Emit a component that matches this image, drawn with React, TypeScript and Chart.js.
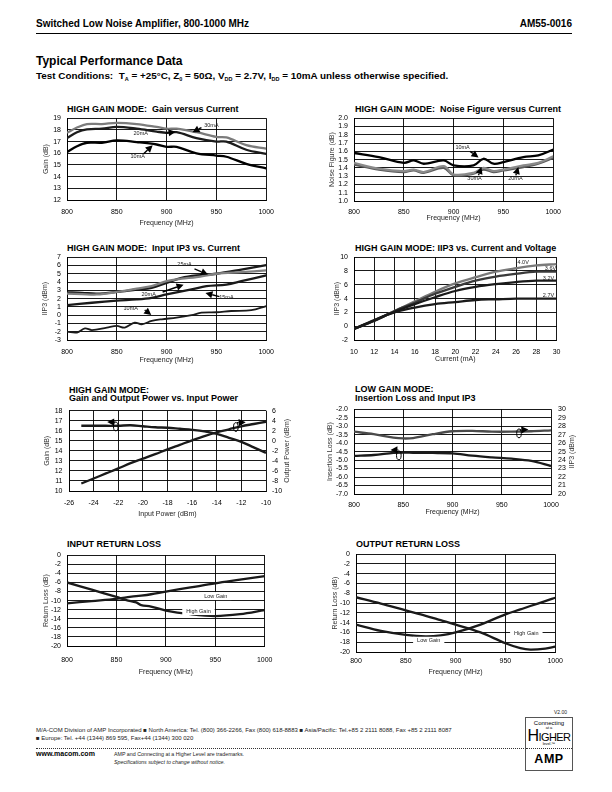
import React, { useEffect, useRef } from 'react';
import { Chart, registerables } from 'chart.js';

Chart.register(...registerables);

const FONT = '"Liberation Sans", Arial, Helvetica, sans-serif';

// ---------- Chart 1: HIGH GAIN MODE: Gain versus Current ----------
const gainFreq = [800, 810, 820, 835, 850, 870, 890, 900, 910, 930, 950, 960, 980, 1000];
const gain30mA = [17.75, 18.2, 18.5, 18.5, 18.6, 18.5, 18.25, 18.1, 18.1, 17.8, 17.4, 17.35, 16.7, 16.4];
const gain20mA = [17.3, 17.8, 18.05, 18.1, 18.25, 18.1, 17.85, 17.75, 17.8, 17.3, 17.0, 17.0, 16.3, 15.95];
const gain10mA = [16.1, 16.6, 16.9, 16.9, 17.1, 16.95, 16.75, 16.55, 16.55, 16.0, 15.8, 15.7, 15.1, 14.7];
const gainNotes = [
  { text: '30mA', x: 945, y: 18.36 },
  { text: '20mA', x: 874, y: 17.69 },
  { text: '10mA', x: 871, y: 15.75 },
];
const gainArrows = [
  { x1: 935, y1: 18.2, x2: 926, y2: 17.8 },
  { x1: 899, y1: 17.72, x2: 909, y2: 17.84 },
  { x1: 877, y1: 15.96, x2: 886, y2: 16.68 },
];

// ---------- Chart 2: HIGH GAIN MODE: Noise Figure versus Current ----------
const nfFreq = [800, 825, 850, 860, 870, 890, 900, 920, 930, 940, 950, 970, 985, 1000];
const nf10mA = [1.58, 1.53, 1.46, 1.49, 1.45, 1.49, 1.43, 1.43, 1.51, 1.45, 1.47, 1.53, 1.55, 1.62];
const nf20mA = [1.46, 1.39, 1.36, 1.38, 1.35, 1.42, 1.32, 1.34, 1.4, 1.36, 1.38, 1.43, 1.46, 1.54];
const nf30mA = [1.44, 1.38, 1.35, 1.37, 1.34, 1.4, 1.31, 1.33, 1.38, 1.35, 1.37, 1.41, 1.45, 1.52];
const nfNotes = [
  { text: '10mA', x: 909, y: 1.646 },
  { text: '30mA', x: 921, y: 1.274 },
  { text: '20mA', x: 962, y: 1.274 },
];
const nfArrows = [
  { x1: 916.5, y1: 1.6, x2: 925, y2: 1.525 },
  { x1: 925, y1: 1.31, x2: 928, y2: 1.41 },
  { x1: 962.5, y1: 1.31, x2: 965, y2: 1.41 },
];

// ---------- Chart 3: HIGH GAIN MODE: Input IP3 vs. Current ----------
const ip3Freq = [800, 815, 830, 850, 870, 885, 900, 915, 930, 950, 975, 1000];
const ip3Upper = [2.75, 2.7, 2.6, 2.8, 3.1, 3.3, 3.9, 4.5, 4.8, 5.0, 5.5, 6.05];
const ip3Gray = [2.6, 2.55, 2.5, 2.8, 3.2, 3.5, 4.1, 4.4, 4.6, 5.0, 5.2, 5.4];
const ip3Freq15 = [800, 825, 850, 870, 885, 900, 925, 940, 960, 975, 1000];
const ip315mA = [1.2, 1.5, 1.75, 1.9, 2.1, 2.5, 3.1, 3.5, 3.7, 4.1, 4.8];
const ip3Freq10 = [800, 810, 818, 825, 840, 850, 858, 868, 875, 885, 895, 910, 925, 935, 950, 965, 985, 1000];
const ip310mA = [-2.0, -2.1, -1.6, -1.8, -1.5, -1.3, -1.5, -0.9, -1.1, -0.7, -0.5, -0.3, 0.0, 0.3, 0.35, 0.5, 0.6, 1.1];
const ip3Notes = [
  { text: '25mA', x: 918, y: 6.12 },
  { text: '20mA', x: 882, y: 2.53 },
  { text: '15mA', x: 960, y: 2.15 },
  { text: '10mA', x: 864, y: 0.78 },
];
const ip3Arrows = [
  { x1: 928, y1: 5.6, x2: 941.5, y2: 4.9 },
  { x1: 896, y1: 2.8, x2: 917, y2: 3.68 },
  { x1: 953, y1: 2.23, x2: 939, y2: 2.69 },
  { x1: 878, y1: 0.63, x2: 884.6, y2: 0.02 },
];

// ---------- Chart 4: HIGH GAIN MODE: IIP3 vs. Current and Voltage ----------
const currents = [10, 12, 14, 16, 18, 20, 22, 24, 26, 28, 30];
const iip3V40 = [-0.4, 0.8, 2.2, 3.6, 5.0, 6.2, 7.1, 7.9, 8.4, 8.8, 9.0];
const iip3V36 = [-0.4, 0.8, 2.2, 3.4, 4.7, 5.7, 6.6, 7.2, 7.6, 7.9, 7.9];
const iip3V32 = [-0.4, 0.8, 2.1, 3.2, 4.2, 5.1, 5.7, 6.1, 6.4, 6.6, 6.6];
const iip3V27 = [-0.4, 0.9, 2.0, 2.7, 3.2, 3.5, 3.8, 3.9, 4.0, 4.0, 4.0];
const voltNotes = [
  { text: '4.0V', x: 26.7, y: 9.3 },
  { text: '3.6V', x: 29.4, y: 8.3 },
  { text: '3.2V', x: 29.2, y: 6.95 },
  { text: '2.7V', x: 29.2, y: 4.5 },
];

// ---------- Chart 5: HIGH GAIN MODE: Gain and Output Power vs. Input Power ----------
const inPower = [-25, -24, -23, -22, -21, -20, -19, -18, -17, -16, -15, -14, -13, -12, -11, -10];
const gainVsPin = [16.5, 16.5, 16.5, 16.5, 16.55, 16.45, 16.35, 16.3, 16.2, 16.1, 15.95, 15.7, 15.3, 14.9, 14.35, 13.8];
const poutVsPin = [-8.5, -7.5, -6.5, -5.5, -4.45, -3.55, -2.65, -1.7, -0.8, 0.1, 0.95, 1.7, 2.3, 2.9, 3.35, 3.8];
const pinOvals = [
  { x: -22.2, y: 16.43, axis: 'y' },
  { x: -12.45, y: 16.37, axis: 'y' },
];
const pinArrows = [
  { x1: -22.25, y1: 16.87, x2: -22.9, y2: 16.87, axis: 'y' },
  { x1: -12.35, y1: 16.8, x2: -11.65, y2: 16.85, axis: 'y' },
];

// ---------- Chart 6: LOW GAIN MODE: Insertion Loss and Input IP3 ----------
const lowFreq = [800, 820, 840, 850, 860, 880, 900, 920, 940, 960, 980, 1000];
const insLoss = [-4.75, -4.7, -4.58, -4.56, -4.57, -4.58, -4.6, -4.74, -4.84, -4.92, -5.05, -5.35];
const lowIip3 = [27.35, 27.05, 26.65, 26.55, 26.6, 27.05, 27.4, 27.45, 27.35, 27.35, 27.4, 27.5];
const lowOvals = [
  { x: 845.5, y: -4.72, axis: 'y' },
  { x: 967.5, y: 27.15, axis: 'y2' },
];
const lowArrows = [
  { x1: 845, y1: -4.4, x2: 837, y2: -4.4, axis: 'y' },
  { x1: 968.5, y1: 27.55, x2: 977, y2: 27.62, axis: 'y2' },
];

// ---------- Chart 7: INPUT RETURN LOSS ----------
const inRlFreq = [800, 825, 850, 860, 870, 875, 885, 900, 925, 950, 975, 1000];
const inRlLow = [-10.6, -10.1, -9.6, -9.3, -9.0, -8.9, -8.6, -8.0, -7.1, -6.2, -5.4, -4.6];
const inRlHigh = [-6.0, -7.6, -9.2, -9.9, -10.4, -11.0, -11.3, -12.2, -13.0, -13.4, -13.0, -12.1];
const inRlNotes = [
  { text: 'Low Gain', x: 950.5, y: -9.0, box: true },
  { text: 'High Gain', x: 933, y: -12.3, box: true },
];

// ---------- Chart 8: OUTPUT RETURN LOSS ----------
const outRlFreq = [800, 825, 850, 870, 885, 900, 925, 950, 965, 975, 990, 1000];
const outRlHigh = [-8.8, -10.1, -11.5, -12.6, -13.5, -14.4, -16.0, -18.2, -19.2, -19.5, -19.3, -18.9];
const outRlLow = [-14.4, -15.7, -16.5, -16.8, -16.6, -16.0, -14.4, -12.3, -11.3, -10.6, -9.6, -8.9];
const outRlNotes = [
  { text: 'High Gain', x: 971, y: -16.2, box: true },
  { text: 'Low Gain', x: 873, y: -17.7, box: true },
];

type AxisSpec = { min: number; max: number; step: number; title: string; decimals?: number };
type SeriesSpec = { x: number[]; y: number[]; color: string; width?: number; axis?: string };
type NoteSpec = { text: string; x: number; y: number; axis?: string; box?: boolean };
type ArrowSpec = { x1: number; y1: number; x2: number; y2: number; axis?: string };
type OvalSpec = { x: number; y: number; axis?: string };
type Spec = {
  title: string[];
  titleX: number;
  titleY: number;
  L: number; T: number; R: number; B: number;
  yw: number; rw: number; xh: number; xPad: number; yPad: number; y2Pad?: number;
  xAxis: AxisSpec; yAxis: AxisSpec; y2Axis?: AxisSpec;
  series: SeriesSpec[];
  notes?: NoteSpec[]; arrows?: ArrowSpec[]; ovals?: OvalSpec[];
};

const freqAxis: AxisSpec = { min: 800, max: 1000, step: 50, title: 'Frequency (MHz)' };

const specs: Spec[] = [
  {
    title: ['HIGH GAIN MODE:  Gain versus Current'], titleX: 67, titleY: 108.5,
    L: 67, T: 114, R: 272, B: 200, yw: 25, rw: 0, xh: 27, xPad: 8, yPad: 6,
    xAxis: freqAxis, yAxis: { min: 12, max: 19, step: 1, title: 'Gain (dB)' },
    series: [
      { x: gainFreq, y: gain30mA, color: '#7c7c7c' },
      { x: gainFreq, y: gain20mA, color: '#1c1c1c' },
      { x: gainFreq, y: gain10mA, color: '#000000' },
    ],
    notes: gainNotes, arrows: gainArrows,
  },
  {
    title: ['HIGH GAIN MODE:  Noise Figure versus Current'], titleX: 355, titleY: 108.5,
    L: 354, T: 114, R: 558, B: 201, yw: 26, rw: 0, xh: 21, xPad: 7, yPad: 6,
    xAxis: freqAxis, yAxis: { min: 1.0, max: 2.0, step: 0.1, title: 'Noise Figure (dB)', decimals: 1 },
    series: [
      { x: nfFreq, y: nf20mA, color: '#8a8a8a' },
      { x: nfFreq, y: nf30mA, color: '#5a5a5a' },
      { x: nfFreq, y: nf10mA, color: '#000000' },
    ],
    notes: nfNotes, arrows: nfArrows,
  },
  {
    title: ['HIGH GAIN MODE:  Input IP3 vs. Current'], titleX: 67, titleY: 248,
    L: 67, T: 253, R: 272, B: 340, yw: 26, rw: 0, xh: 24, xPad: 8, yPad: 6,
    xAxis: freqAxis, yAxis: { min: -3, max: 7, step: 1, title: 'IIP3 (dBm)' },
    series: [
      { x: ip3Freq, y: ip3Gray, color: '#808080' },
      { x: ip3Freq, y: ip3Upper, color: '#1a1a1a' },
      { x: ip3Freq15, y: ip315mA, color: '#1a1a1a' },
      { x: ip3Freq10, y: ip310mA, color: '#1a1a1a', width: 1.8 },
    ],
    notes: ip3Notes, arrows: ip3Arrows,
  },
  {
    title: ['HIGH GAIN MODE: IIP3 vs. Current and Voltage'], titleX: 355, titleY: 248,
    L: 354, T: 253, R: 558, B: 340, yw: 21, rw: 0, xh: 23, xPad: 7.5, yPad: 6,
    xAxis: { min: 10, max: 30, step: 2, title: 'Current (mA)' },
    yAxis: { min: -2, max: 10, step: 2, title: 'IIP3 (dBm)' },
    series: [
      { x: currents, y: iip3V27, color: '#1a1a1a' },
      { x: currents, y: iip3V32, color: '#1a1a1a' },
      { x: currents, y: iip3V36, color: '#3a3a3a' },
      { x: currents, y: iip3V40, color: '#7a7a7a' },
    ],
    notes: voltNotes,
  },
  {
    title: ['HIGH GAIN MODE:', 'Gain and Output Power vs. Input Power'], titleX: 69, titleY: 389.5,
    L: 69, T: 406, R: 266, B: 491, yw: 26, rw: 25, xh: 27, xPad: 7.5, yPad: 6.5, y2Pad: 6,
    xAxis: { min: -26, max: -10, step: 2, title: 'Input Power (dBm)' },
    yAxis: { min: 10, max: 18, step: 1, title: 'Gain (dB)' },
    y2Axis: { min: -10, max: 6, step: 2, title: 'Output Power (dBm)' },
    series: [
      { x: inPower, y: gainVsPin, color: '#1a1a1a', axis: 'y' },
      { x: inPower, y: poutVsPin, color: '#1a1a1a', axis: 'y2' },
    ],
    ovals: pinOvals, arrows: pinArrows,
  },
  {
    title: ['LOW GAIN MODE:', 'Insertion Loss and Input IP3'], titleX: 355, titleY: 389,
    L: 354, T: 404, R: 551, B: 494, yw: 28, rw: 25, xh: 22, xPad: 7, yPad: 6, y2Pad: 7,
    xAxis: freqAxis,
    yAxis: { min: -7, max: -2, step: 0.5, title: 'Insertion Loss (dB)', decimals: 1 },
    y2Axis: { min: 20, max: 30, step: 1, title: 'IIP3 (dBm)' },
    series: [
      { x: lowFreq, y: lowIip3, color: '#4a4a4a', axis: 'y2' },
      { x: lowFreq, y: insLoss, color: '#1a1a1a', axis: 'y' },
    ],
    ovals: lowOvals, arrows: lowArrows,
  },
  {
    title: ['INPUT RETURN LOSS'], titleX: 67, titleY: 544,
    L: 67, T: 551, R: 272, B: 646, yw: 25, rw: 0, xh: 30, xPad: 9.5, yPad: 6,
    xAxis: freqAxis, yAxis: { min: -20, max: 0, step: 2, title: 'Return Loss (dB)' },
    series: [
      { x: inRlFreq, y: inRlLow, color: '#1a1a1a' },
      { x: inRlFreq, y: inRlHigh, color: '#1a1a1a' },
    ],
    notes: inRlNotes,
  },
  {
    title: ['OUTPUT RETURN LOSS'], titleX: 356, titleY: 544,
    L: 356, T: 550, R: 558, B: 652, yw: 25, rw: 0, xh: 24, xPad: 5, yPad: 6,
    xAxis: freqAxis, yAxis: { min: -20, max: 0, step: 2, title: 'Return Loss (dB)' },
    series: [
      { x: outRlFreq, y: outRlHigh, color: '#1a1a1a' },
      { x: outRlFreq, y: outRlLow, color: '#1a1a1a' },
    ],
    notes: outRlNotes,
  },
];

function fmt(v: number, decimals?: number) {
  if (decimals !== undefined) return Number(v).toFixed(decimals);
  return String(Math.round(v * 1000) / 1000);
}

function drawArrow(ctx: CanvasRenderingContext2D, x1: number, y1: number, x2: number, y2: number) {
  const ang = Math.atan2(y2 - y1, x2 - x1);
  const head = 7;
  const hw = 3.6;
  const c = Math.cos(ang);
  const s = Math.sin(ang);
  const bx = x2 - head * c;
  const by = y2 - head * s;
  ctx.beginPath();
  ctx.moveTo(x1, y1);
  ctx.lineTo(bx, by);
  ctx.lineWidth = 1.4;
  ctx.strokeStyle = '#000';
  ctx.stroke();
  ctx.beginPath();
  ctx.moveTo(x2, y2);
  ctx.lineTo(bx + hw * s, by - hw * c);
  ctx.lineTo(bx - hw * s, by + hw * c);
  ctx.closePath();
  ctx.fillStyle = '#000';
  ctx.fill();
}

function ChartBox({ spec }: { spec: Spec }) {
  const ref = useRef<HTMLCanvasElement>(null);
  const padTop = 6;
  const padRight = spec.rw > 0 ? 0 : 10;
  const w = spec.yw + (spec.R - spec.L) + spec.rw + padRight;
  const h = padTop + (spec.B - spec.T) + spec.xh;

  useEffect(() => {
    const canvas = ref.current;
    if (!canvas) return;
    const tickFont = { family: FONT, size: 7 };
    const titleFont = { family: FONT, size: 7 };
    const scales: any = {
      x: {
        type: 'linear',
        position: 'bottom',
        min: spec.xAxis.min,
        max: spec.xAxis.max,
        ticks: {
          stepSize: spec.xAxis.step,
          autoSkip: false,
          maxRotation: 0,
          padding: spec.xPad,
          color: '#000',
          font: tickFont,
          callback: (v: any) => fmt(Number(v), spec.xAxis.decimals),
        },
        grid: { color: '#000', lineWidth: 0.9, drawTicks: false },
        border: { color: '#000', width: 1 },
        title: { display: true, text: spec.xAxis.title, color: '#222', font: titleFont, padding: 0 },
        afterFit: (s: any) => { s.height = spec.xh; },
      },
      y: {
        type: 'linear',
        position: 'left',
        min: spec.yAxis.min,
        max: spec.yAxis.max,
        ticks: {
          stepSize: spec.yAxis.step,
          autoSkip: false,
          padding: spec.yPad,
          color: '#000',
          font: tickFont,
          callback: (v: any) => fmt(Number(v), spec.yAxis.decimals),
        },
        grid: { color: '#000', lineWidth: 0.9, drawTicks: false },
        border: { color: '#000', width: 1 },
        title: { display: true, text: spec.yAxis.title, color: '#333', font: titleFont, padding: 0 },
        afterFit: (s: any) => { s.width = spec.yw; },
      },
    };
    if (spec.y2Axis) {
      const a = spec.y2Axis;
      scales.y2 = {
        type: 'linear',
        position: 'right',
        min: a.min,
        max: a.max,
        ticks: {
          stepSize: a.step,
          autoSkip: false,
          padding: spec.y2Pad ?? 6,
          color: '#000',
          font: tickFont,
          callback: (v: any) => fmt(Number(v), a.decimals),
        },
        grid: { display: false, drawTicks: false },
        border: { display: false },
        title: { display: false, text: a.title },
        afterFit: (s: any) => { s.width = spec.rw; },
      };
    }

    const notesPlugin = {
      id: 'notes',
      afterDatasetsDraw(chart: any) {
        const ctx: CanvasRenderingContext2D = chart.ctx;
        const xs = chart.scales.x;
        const ysc = (a?: string) => chart.scales[a || 'y'];
        ctx.save();
        (spec.arrows || []).forEach((ar) => {
          const ys = ysc(ar.axis);
          drawArrow(ctx, xs.getPixelForValue(ar.x1), ys.getPixelForValue(ar.y1), xs.getPixelForValue(ar.x2), ys.getPixelForValue(ar.y2));
        });
        (spec.ovals || []).forEach((o) => {
          const ys = ysc(o.axis);
          ctx.beginPath();
          ctx.ellipse(xs.getPixelForValue(o.x), ys.getPixelForValue(o.y), 2.3, 4.4, 0, 0, Math.PI * 2);
          ctx.lineWidth = 1;
          ctx.strokeStyle = '#000';
          ctx.stroke();
        });
        ctx.font = `5.5px ${FONT}`;
        ctx.textAlign = 'center';
        ctx.textBaseline = 'middle';
        (spec.notes || []).forEach((n) => {
          const ys = ysc(n.axis);
          const px = xs.getPixelForValue(n.x);
          const py = ys.getPixelForValue(n.y);
          if (n.box) {
            const tw = ctx.measureText(n.text).width;
            ctx.fillStyle = '#fff';
            ctx.fillRect(px - tw / 2 - 4, py - 4, tw + 8, 8);
          }
          ctx.fillStyle = '#222';
          ctx.fillText(n.text, px, py);
        });
        if (spec.y2Axis) {
          const ca = chart.chartArea;
          ctx.font = `7px ${FONT}`;
          ctx.fillStyle = '#333';
          ctx.translate(ca.right + spec.rw - 4.2, (ca.top + ca.bottom) / 2);
          ctx.rotate(-Math.PI / 2);
          ctx.textAlign = 'center';
          ctx.textBaseline = 'middle';
          ctx.fillText(spec.y2Axis.title, 0, 0);
        }
        ctx.restore();
      },
    };

    const chart = new Chart(canvas, {
      type: 'line',
      data: {
        datasets: spec.series.map((s) => ({
          data: s.x.map((xv, i) => ({ x: xv, y: s.y[i] })),
          borderColor: s.color,
          borderWidth: s.width ?? 2.3,
          pointRadius: 0,
          tension: 0.35,
          fill: false,
          yAxisID: s.axis || 'y',
        })),
      },
      options: {
        animation: false,
        responsive: false,
        maintainAspectRatio: false,
        layout: { padding: { top: padTop, right: padRight, left: 0, bottom: 0 } },
        plugins: { legend: { display: false }, tooltip: { enabled: false }, title: { display: false } },
        scales,
      } as any,
      plugins: [notesPlugin as any],
    });
    return () => chart.destroy();
  }, [spec]);

  return (
    <>
      {spec.title.map((t, i) => (
        <div
          key={i}
          style={{
            position: 'absolute',
            left: spec.titleX,
            top: spec.titleY - 5 + i * 8.5,
            fontSize: 9,
            lineHeight: '10px',
            fontWeight: 'bold',
            whiteSpace: 'pre',
            color: '#000',
          }}
        >
          {t}
        </div>
      ))}
      <canvas
        ref={ref}
        width={w}
        height={h}
        style={{ position: 'absolute', left: spec.L - spec.yw, top: spec.T - padTop, width: w, height: h }}
      />
    </>
  );
}

const subStyle: React.CSSProperties = { fontSize: 5.5, verticalAlign: '-1.5px', lineHeight: 0 };

export default function App() {
  return (
    <div
      style={{
        position: 'absolute',
        left: 0,
        top: 0,
        width: 612,
        height: 792,
        background: '#fff',
        overflow: 'hidden',
        fontFamily: FONT,
        color: '#000',
      }}
    >
      <div style={{ position: 'absolute', left: 36, top: 18, fontSize: 10, fontWeight: 'bold', whiteSpace: 'nowrap' }}>
        Switched Low Noise Amplifier, 800-1000 MHz
      </div>
      <div style={{ position: 'absolute', right: 40, top: 18, fontSize: 10, fontWeight: 'bold', whiteSpace: 'nowrap' }}>
        AM55-0016
      </div>
      <div style={{ position: 'absolute', left: 36, top: 33, width: 536, height: 1, background: '#000' }} />
      <div style={{ position: 'absolute', left: 36, top: 54, fontSize: 12, fontWeight: 'bold', whiteSpace: 'nowrap' }}>
        Typical Performance Data
      </div>
      <div style={{ position: 'absolute', left: 36, top: 70, fontSize: 9.9, fontWeight: 'bold', whiteSpace: 'nowrap' }}>
        Test Conditions:&nbsp; T<sub style={subStyle}>A</sub> = +25°C, Z<sub style={subStyle}>0</sub> = 50Ω, V
        <sub style={subStyle}>DD</sub> = 2.7V, I<sub style={subStyle}>DD</sub> = 10mA unless otherwise specified.
      </div>

      {specs.map((s, i) => (
        <ChartBox key={i} spec={s} />
      ))}

      <div style={{ position: 'absolute', left: 554, top: 709, fontSize: 5, whiteSpace: 'nowrap', color: '#222' }}>V2.00</div>
      <div style={{ position: 'absolute', left: 36, top: 727, fontSize: 6, whiteSpace: 'nowrap', color: '#222' }}>
        M/A-COM Division of AMP Incorporated ■ North America: Tel. (800) 366-2266, Fax (800) 618-8883 ■ Asia/Pacific: Tel.+85 2 2111 8088, Fax +85 2 2111 8087
      </div>
      <div style={{ position: 'absolute', left: 36, top: 735, fontSize: 6, whiteSpace: 'nowrap', color: '#222' }}>
        ■ Europe: Tel. +44 (1344) 869 595, Fax+44 (1344) 300 020
      </div>
      <div style={{ position: 'absolute', left: 36, top: 748, width: 536, height: 0, borderTop: '1px dotted #333' }} />
      <div style={{ position: 'absolute', left: 36, top: 750, fontSize: 7, fontWeight: 'bold', whiteSpace: 'nowrap' }}>
        www.macom.com
      </div>
      <div style={{ position: 'absolute', left: 114, top: 751, fontSize: 5.3, whiteSpace: 'nowrap', color: '#222' }}>
        AMP and Connecting at a Higher Level are trademarks.
      </div>
      <div style={{ position: 'absolute', left: 114, top: 758.5, fontSize: 5.3, fontStyle: 'italic', whiteSpace: 'nowrap', color: '#222' }}>
        Specifications subject to change without notice.
      </div>

      <div
        style={{
          position: 'absolute',
          left: 525,
          top: 717,
          width: 46,
          height: 52,
          border: '1px solid #555',
          background: '#fff',
          textAlign: 'center',
          lineHeight: 1,
        }}
      >
        <div style={{ position: 'absolute', left: 0, right: 0, top: 2, fontSize: 6 }}>Connecting</div>
        <div style={{ position: 'absolute', left: 0, right: 0, top: 7.5, fontSize: 4 }}>at a</div>
        <div style={{ position: 'absolute', left: 0, right: 0, top: 10, fontSize: 11, letterSpacing: -0.6, whiteSpace: 'nowrap' }}>
          <span style={{ fontSize: 16 }}>H</span>IGHER
        </div>
        <div style={{ position: 'absolute', left: 0, right: 0, top: 24.5, fontSize: 3.8 }}>level.™</div>
        <div style={{ position: 'absolute', left: 0, right: 0, top: 30, height: 0, borderTop: '1px dotted #333' }} />
        <div style={{ position: 'absolute', left: 0, right: 0, top: 35, fontSize: 12.5, fontWeight: 900, letterSpacing: 0.5 }}>
          AMP
        </div>
      </div>
    </div>
  );
}
